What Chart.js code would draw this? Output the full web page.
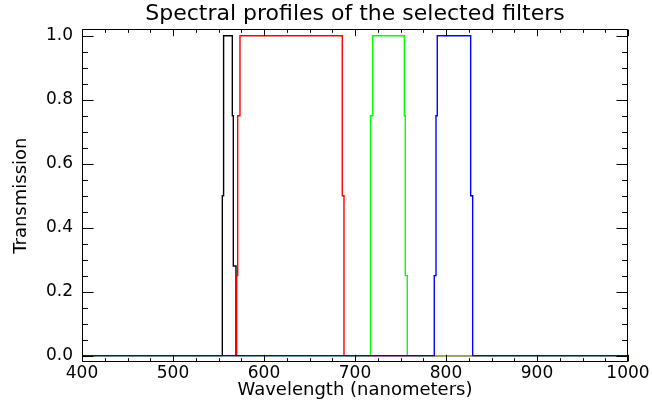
<!doctype html>
<html lang="en">
  <head>
    <meta charset="UTF-8" />
    <title>Spectral profiles of the selected filters</title>
    <script src="https://cdn.jsdelivr.net/npm/chart.js"></script>
    <style>
      body {
        margin: 0;
        background: #ffffff;
      }
      canvas {
        display: block;
      }
    </style>
  </head>
  <body>
    <canvas id="filterChart" width="652" height="403"></canvas>

    <script>
      // wavelengths (nm) and transmission of each filter
      const blackWl = [400, 554.2, 554.2, 555.6, 555.6, 565.2, 565.2, 566.3, 566.3, 569.2, 569.2, 1000];
      const blackTr = [0, 0, 0.5, 0.5, 1, 1, 0.75, 0.75, 0.28, 0.28, 0, 0];

      const redWl = [400, 570.0, 570.0, 571.1, 571.1, 573.6, 573.6, 686.0, 686.0, 687.9, 687.9, 1000];
      const redTr = [0, 0, 0.25, 0.25, 0.75, 0.75, 1, 1, 0.5, 0.5, 0, 0];

      const greenWl = [400, 716.5, 716.5, 717.3, 717.3, 719.5, 719.5, 754.2, 754.2, 755.3, 755.3, 757.5, 757.5, 1000];
      const greenTr = [0, 0, 0.25, 0.25, 0.75, 0.75, 1, 1, 0.75, 0.75, 0.25, 0.25, 0, 0];

      const blueWl = [400, 787.1, 787.1, 789.0, 789.0, 790.4, 790.4, 827.1, 827.1, 829.3, 829.3, 1000];
      const blueTr = [0, 0, 0.25, 0.25, 0.75, 0.75, 1, 1, 0.5, 0.5, 0, 0];

      // axis ticks
      const xTicks = [400, 500, 600, 700, 800, 900, 1000];
      const yTicks = [0, 0.2, 0.4, 0.6, 0.8, 1.0];
      const xMinorStep = 25;
      const yMinorStep = 0.05;

      const toPoints = (wl, tr) => wl.map((w, i) => ({ x: w, y: tr[i] }));

      const FONT = "'DejaVu Sans', sans-serif";
      Chart.defaults.color = "#000000";
      Chart.defaults.font.family = FONT;

      // IDL style box with inward ticks on all four sides
      const framePlugin = {
        id: "frame",
        afterDatasetsDraw(chart) {
          const { ctx, chartArea: a, scales } = chart;
          const L = Math.round(a.left) + 0.5;
          const R = Math.round(a.right) - 0.5;
          const T = Math.round(a.top) + 0.5;
          const B = Math.round(a.bottom) - 0.5;
          ctx.save();
          ctx.strokeStyle = "#000000";
          ctx.lineWidth = 1;
          ctx.beginPath();
          ctx.rect(L, T, R - L, B - T);

          const xMajor = 6.7, xMinor = 3.3, yMajor = 11, yMinor = 5.5;
          const first = xTicks[0], last = xTicks[xTicks.length - 1];
          for (let v = first; v <= last + 1e-6; v += xMinorStep) {
            const px = Math.round(scales.x.getPixelForValue(v)) + 0.5;
            const len = xTicks.includes(v) ? xMajor : xMinor;
            ctx.moveTo(px, B);
            ctx.lineTo(px, B - len);
            ctx.moveTo(px, T);
            ctx.lineTo(px, T + len);
          }
          for (let k = 0; k <= 20; k++) {
            const v = k * yMinorStep;
            const py = Math.round(scales.y.getPixelForValue(v)) + 0.5;
            const len = k % 4 === 0 ? yMajor : yMinor;
            ctx.moveTo(L, py);
            ctx.lineTo(L + len, py);
            ctx.moveTo(R, py);
            ctx.lineTo(R - len, py);
          }
          ctx.stroke();
          ctx.restore();
        },
      };

      const lineSet = (label, data, color, order) => ({
        label: label,
        data: data,
        borderColor: color,
        borderWidth: 1.4,
        pointRadius: 0,
        fill: false,
        tension: 0,
        order: order,
      });

      const ctx = document.getElementById("filterChart").getContext("2d");
      new Chart(ctx, {
        type: "line",
        data: {
          datasets: [
            lineSet("black", toPoints(blackWl, blackTr), "#000000", 4),
            lineSet("red", toPoints(redWl, redTr), "#ff0000", 3),
            lineSet("green", toPoints(greenWl, greenTr), "#00ff00", 2),
            lineSet("blue", toPoints(blueWl, blueTr), "#0000ff", 1),
          ],
        },
        options: {
          responsive: false,
          animation: false,
          layout: { padding: { left: 0, right: 24, top: 0, bottom: 0 } },
          scales: {
            x: {
              type: "linear",
              min: 400,
              max: 1000,
              grid: { display: false, drawTicks: false },
              border: { display: false },
              afterBuildTicks: (s) => {
                s.ticks = xTicks.map((v) => ({ value: v }));
              },
              afterFit: (s) => {
                s.height = 41;
              },
              ticks: {
                padding: 1,
                maxRotation: 0,
                font: { size: 17, family: FONT },
                callback: (v) => String(v),
              },
              title: {
                display: true,
                text: "Wavelength (nanometers)",
                font: { size: 18, family: FONT },
                padding: { top: 0, bottom: 2 },
              },
            },
            y: {
              min: -0.02,
              max: 1.02,
              grid: { display: false, drawTicks: false },
              border: { display: false },
              afterBuildTicks: (s) => {
                s.ticks = yTicks.map((v) => ({ value: v }));
              },
              afterFit: (s) => {
                s.width = 82;
              },
              ticks: {
                padding: 9,
                font: { size: 17, family: FONT },
                callback: (v) => Number(v).toFixed(1),
              },
              title: {
                display: true,
                text: "Transmission",
                font: { size: 18, family: FONT },
                padding: { top: 11, bottom: 0 },
              },
            },
          },
          plugins: {
            legend: { display: false },
            tooltip: { enabled: false },
            title: {
              display: true,
              fullSize: false,
              text: "Spectral profiles of the selected filters",
              font: { size: 22, weight: "normal", family: FONT },
              padding: { top: 1, bottom: 2 },
              color: "#000000",
            },
          },
        },
        plugins: [framePlugin],
      });
    </script>
  </body>
</html>
